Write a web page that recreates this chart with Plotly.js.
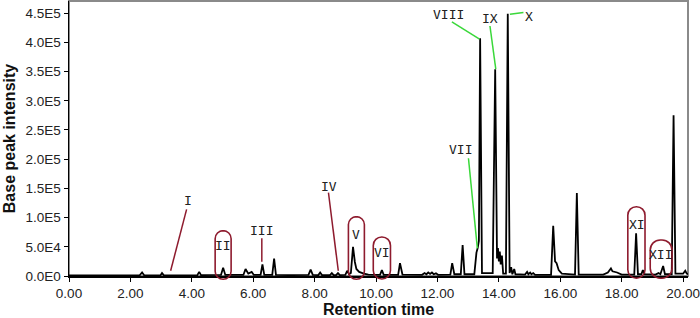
<!DOCTYPE html>
<html>
<head>
<meta charset="utf-8">
<script src="https://cdn.plot.ly/plotly-3.0.1.min.js"></script>
<style>
  html, body { margin: 0; padding: 0; background: #ffffff; }
  #chart { width: 700px; height: 318px; }
</style>
</head>
<body>
<div id="chart"></div>
<script>
// ---- Data ----
var retentionTime = [
  0.00, 0.80, 1.50, 2.30, 2.38, 2.45, 2.98, 3.03, 3.09, 3.60,
  4.18, 4.24, 4.30, 4.95, 5.02, 5.09, 5.68, 5.75, 5.84, 5.95,
  6.02, 6.24, 6.30, 6.36, 6.62, 6.68, 6.74, 7.20, 7.80, 7.87,
  7.94, 8.12, 8.18, 8.24, 8.50, 8.56, 8.62, 8.70, 8.76, 8.82,
  9.00, 9.06, 9.12, 9.18, 9.25, 9.31, 9.36, 9.45, 9.60, 9.75,
  9.95, 10.13, 10.19, 10.25, 10.72, 10.78, 10.86, 11.50, 11.58, 11.64,
  11.70, 11.76, 11.82, 11.88, 11.95, 12.02, 12.42, 12.48, 12.55, 12.76,
  12.82, 12.88, 13.20, 13.27, 13.31, 13.35, 13.39, 13.45, 13.80, 13.88,
  13.94, 13.97, 14.00, 14.03, 14.06, 14.10, 14.14, 14.23, 14.29, 14.35,
  14.40, 14.44, 14.50, 14.54, 14.85, 14.92, 14.96, 15.02, 15.06, 15.12,
  15.18, 15.70, 15.77, 15.83, 15.88, 15.95, 16.05, 16.48, 16.54, 16.60,
  17.40, 17.55, 17.65, 17.70, 17.85, 18.00, 18.41, 18.47, 18.53, 18.64,
  18.69, 18.75, 19.10, 19.20, 19.26, 19.35, 19.41, 19.63, 19.69, 19.75,
  20.00, 20.07, 20.12, 20.16
];
var basePeakIntensity = [
  1000, 1200, 1000, 1200, 6000, 1200, 1200, 5000, 1200, 1300,
  1500, 7000, 1500, 1800, 14000, 1800, 1800, 12000, 4000, 7000,
  1800, 1800, 20000, 1800, 1800, 30000, 1800, 1500, 1800, 11000,
  1800, 1500, 6000, 1500, 1500, 5000, 1500, 1500, 5000, 1500,
  1800, 9000, 3000, 5000, 50000, 24000, 12000, 7000, 4000, 2500,
  2000, 2000, 10000, 2000, 2000, 22000, 2500, 2000, 5000, 3000,
  6000, 3500, 6000, 3000, 4500, 2000, 2500, 22000, 3000, 3000,
  53000, 3000, 3000, 40000, 48000, 60000, 407000, 5000, 5000, 354000,
  30000, 48000, 25000, 42000, 20000, 35000, 4000, 4000, 449000, 5000,
  15000, 3000, 12000, 3000, 2500, 7000, 3000, 6000, 3000, 5000,
  2000, 2000, 86000, 25000, 22000, 10000, 4000, 2500, 142000, 2500,
  2500, 6000, 13000, 8000, 6000, 2500, 2500, 73000, 3000, 3000,
  10000, 3000, 2500, 5000, 3000, 17000, 3000, 3000, 275000, 4000,
  4000, 9000, 4000, 3000
];
var yTickValues = [0, 50000, 100000, 150000, 200000, 250000, 300000, 350000, 400000, 450000];
var yTickLabels = ["0.0E0", "5.0E4", "1.0E5", "1.5E5", "2.0E5", "2.5E5", "3.0E5", "3.5E5", "4.0E5", "4.5E5"];

// Compound labels
var compoundLabels = ["I", "II", "III", "IV", "V", "VI", "VII", "VIII", "IX", "X", "XI", "XII"];
var labelTimes =      [3.87, 5.02, 6.28, 8.47, 9.35, 10.19, 12.74, 12.36, 13.71, 14.98, 18.49, 19.27];
var labelIntensity =  [129000, 52000, 77600, 154000, 71000, 39500, 217000, 447000, 441000, 445000, 89000, 36000];

// ---- Layout helpers (positions / styles) ----
var RED = "#8e1b2e";
var GREEN = "#3ad83a";
var PX_PER_MIN = 30.7, PLOT_H = 275;

function leader(x0, y0, x1, y1, color) {
  return {type: "line", xref: "x", yref: "y", x0: x0, y0: y0, x1: x1, y1: y1,
          line: {color: color, width: 1.5}};
}
function stadium(x0, x1, y0, y1, rpx) {
  var rx = rpx / PX_PER_MIN, ry = rpx / PLOT_H, k = 0.5523;
  var p = "M" + (x0 + rx) + "," + y1 +
    " L" + (x1 - rx) + "," + y1 +
    " C" + (x1 - rx + k * rx) + "," + y1 + " " + x1 + "," + (y1 - ry + k * ry) + " " + x1 + "," + (y1 - ry) +
    " L" + x1 + "," + (y0 + ry) +
    " C" + x1 + "," + (y0 + ry - k * ry) + " " + (x1 - rx + k * rx) + "," + y0 + " " + (x1 - rx) + "," + y0 +
    " L" + (x0 + rx) + "," + y0 +
    " C" + (x0 + rx - k * rx) + "," + y0 + " " + x0 + "," + (y0 + ry - k * ry) + " " + x0 + "," + (y0 + ry) +
    " L" + x0 + "," + (y1 - ry) +
    " C" + x0 + "," + (y1 - ry + k * ry) + " " + (x0 + rx - k * rx) + "," + y1 + " " + (x0 + rx) + "," + y1 + " Z";
  return {type: "path", xref: "x", yref: "paper", path: p,
          line: {color: RED, width: 1.6}, fillcolor: "rgba(0,0,0,0)"};
}

var shapes = [
  {type: "rect", xref: "paper", yref: "paper", x0: 0, x1: 1, y0: 0, y1: 1,
   line: {color: "#8a8a8a", width: 2}, layer: "below"},
  leader(3.83, 114000, 3.31, 9000, RED),
  leader(6.28, 64500, 6.28, 24500, RED),
  leader(8.45, 142600, 8.77, 9000, RED),
  leader(13.01, 201500, 13.30, 47400, GREEN),
  leader(12.47, 435000, 13.37, 405700, GREEN),
  leader(13.71, 428000, 13.90, 354000, GREEN),
  leader(14.36, 448000, 14.80, 451000, GREEN),
  stadium(4.76, 5.28, -0.012, 0.165, 8),
  stadium(9.10, 9.62, -0.012, 0.216, 8),
  stadium(9.91, 10.47, -0.011, 0.142, 8.5),
  stadium(18.20, 18.76, -0.008, 0.252, 8.5),
  stadium(18.93, 19.64, -0.008, 0.131, 10)
];

var annotations = compoundLabels.map(function (lab, i) {
  return {x: labelTimes[i], y: labelIntensity[i], xref: "x", yref: "y",
          text: lab, showarrow: false, xanchor: "center", yanchor: "middle",
          font: {family: "DejaVu Sans Mono", size: 13, color: "#222"}};
});

var trace = {
  x: retentionTime, y: basePeakIntensity, type: "scatter", mode: "lines",
  line: {color: "#000000", width: 1.8, shape: "linear"}, hoverinfo: "skip"
};

var layout = {
  width: 700, height: 318,
  margin: {l: 69, r: 12, t: 1, b: 42},
  paper_bgcolor: "#ffffff", plot_bgcolor: "#ffffff",
  showlegend: false,
  font: {family: "Liberation Sans, Arial, sans-serif", color: "#222"},
  xaxis: {
    range: [0, 20.16], tick0: 0, dtick: 2, tickformat: ".2f",
    showgrid: false, zeroline: false, showline: true, linecolor: "#000", linewidth: 1.5,
    ticks: "outside", ticklen: 4, tickcolor: "#000", tickwidth: 1,
    tickfont: {size: 13.5, color: "#222"},
    title: {text: "Retention time", font: {size: 16, color: "#111", weight: "bold"}, standoff: 1}
  },
  yaxis: {
    range: [0, 470800], tickvals: yTickValues, ticktext: yTickLabels,
    showgrid: false, zeroline: false, showline: true, linecolor: "#000", linewidth: 1.5,
    ticks: "outside", ticklen: 4, tickcolor: "#000", tickwidth: 1,
    tickfont: {size: 13.5, color: "#222"},
    title: {text: "Base peak intensity", font: {size: 16, color: "#111", weight: "bold"}, standoff: 6}
  },
  shapes: shapes,
  annotations: annotations
};

Plotly.newPlot("chart", [trace], layout, {displayModeBar: false, staticPlot: true});
</script>
</body>
</html>
